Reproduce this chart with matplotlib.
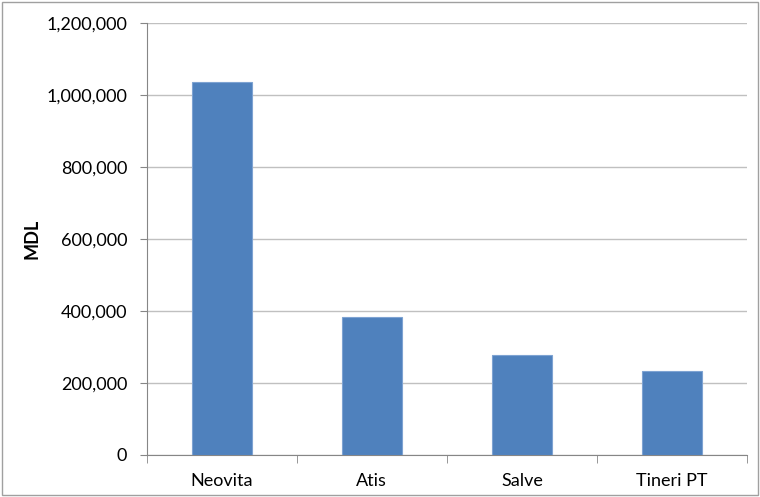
import numpy as np
import matplotlib.pyplot as plt
from matplotlib.ticker import FuncFormatter
from matplotlib.patches import Rectangle

# Data
companies = ["Neovita", "Atis", "Salve", "Tineri PT"]
values = [1036000, 383000, 278000, 232000]
y_ticks = [0, 200000, 400000, 600000, 800000, 1000000, 1200000]

plt.rcParams['font.family'] = ['Lato', 'DejaVu Sans']

fig = plt.figure(figsize=(7.6, 4.97), dpi=100)
ax = fig.add_axes([0.193, 0.085, 0.790, 0.869])

x = np.arange(len(companies))
ax.bar(x, values, width=0.4, color="#4f81bd", edgecolor="#7ea3d2", linewidth=0.8, zorder=3)

ax.set_xlim(-0.5, len(companies) - 0.5)
ax.set_ylim(0, 1200000)
ax.set_yticks(y_ticks)
ax.yaxis.set_major_formatter(FuncFormatter(lambda v, p: f"{int(v):,}"))
ax.set_xticks(x)
ax.set_xticklabels(companies)
ax.set_xticks(np.arange(-0.5, len(companies)), minor=True)
ax.tick_params(axis="x", which="major", length=0, pad=13, labelsize=13)
ax.tick_params(axis="x", which="minor", length=6, color="#868686")
ax.tick_params(axis="y", length=5, color="#868686", labelsize=13, pad=9)

ax.grid(axis="y", color="#c0c0c0", linewidth=1, zorder=0)
for s in ["top", "right"]:
    ax.spines[s].set_visible(False)
for s in ["left", "bottom"]:
    ax.spines[s].set_color("#868686")

ax.set_ylabel("MDL", fontweight="bold", fontsize=13, labelpad=4)

# chart border
fig.patches.append(Rectangle((0.003, 0.004), 0.994, 0.992, transform=fig.transFigure,
                             fill=False, edgecolor="#a0a0a0", linewidth=1))

fig.savefig("out.png", dpi=100)
